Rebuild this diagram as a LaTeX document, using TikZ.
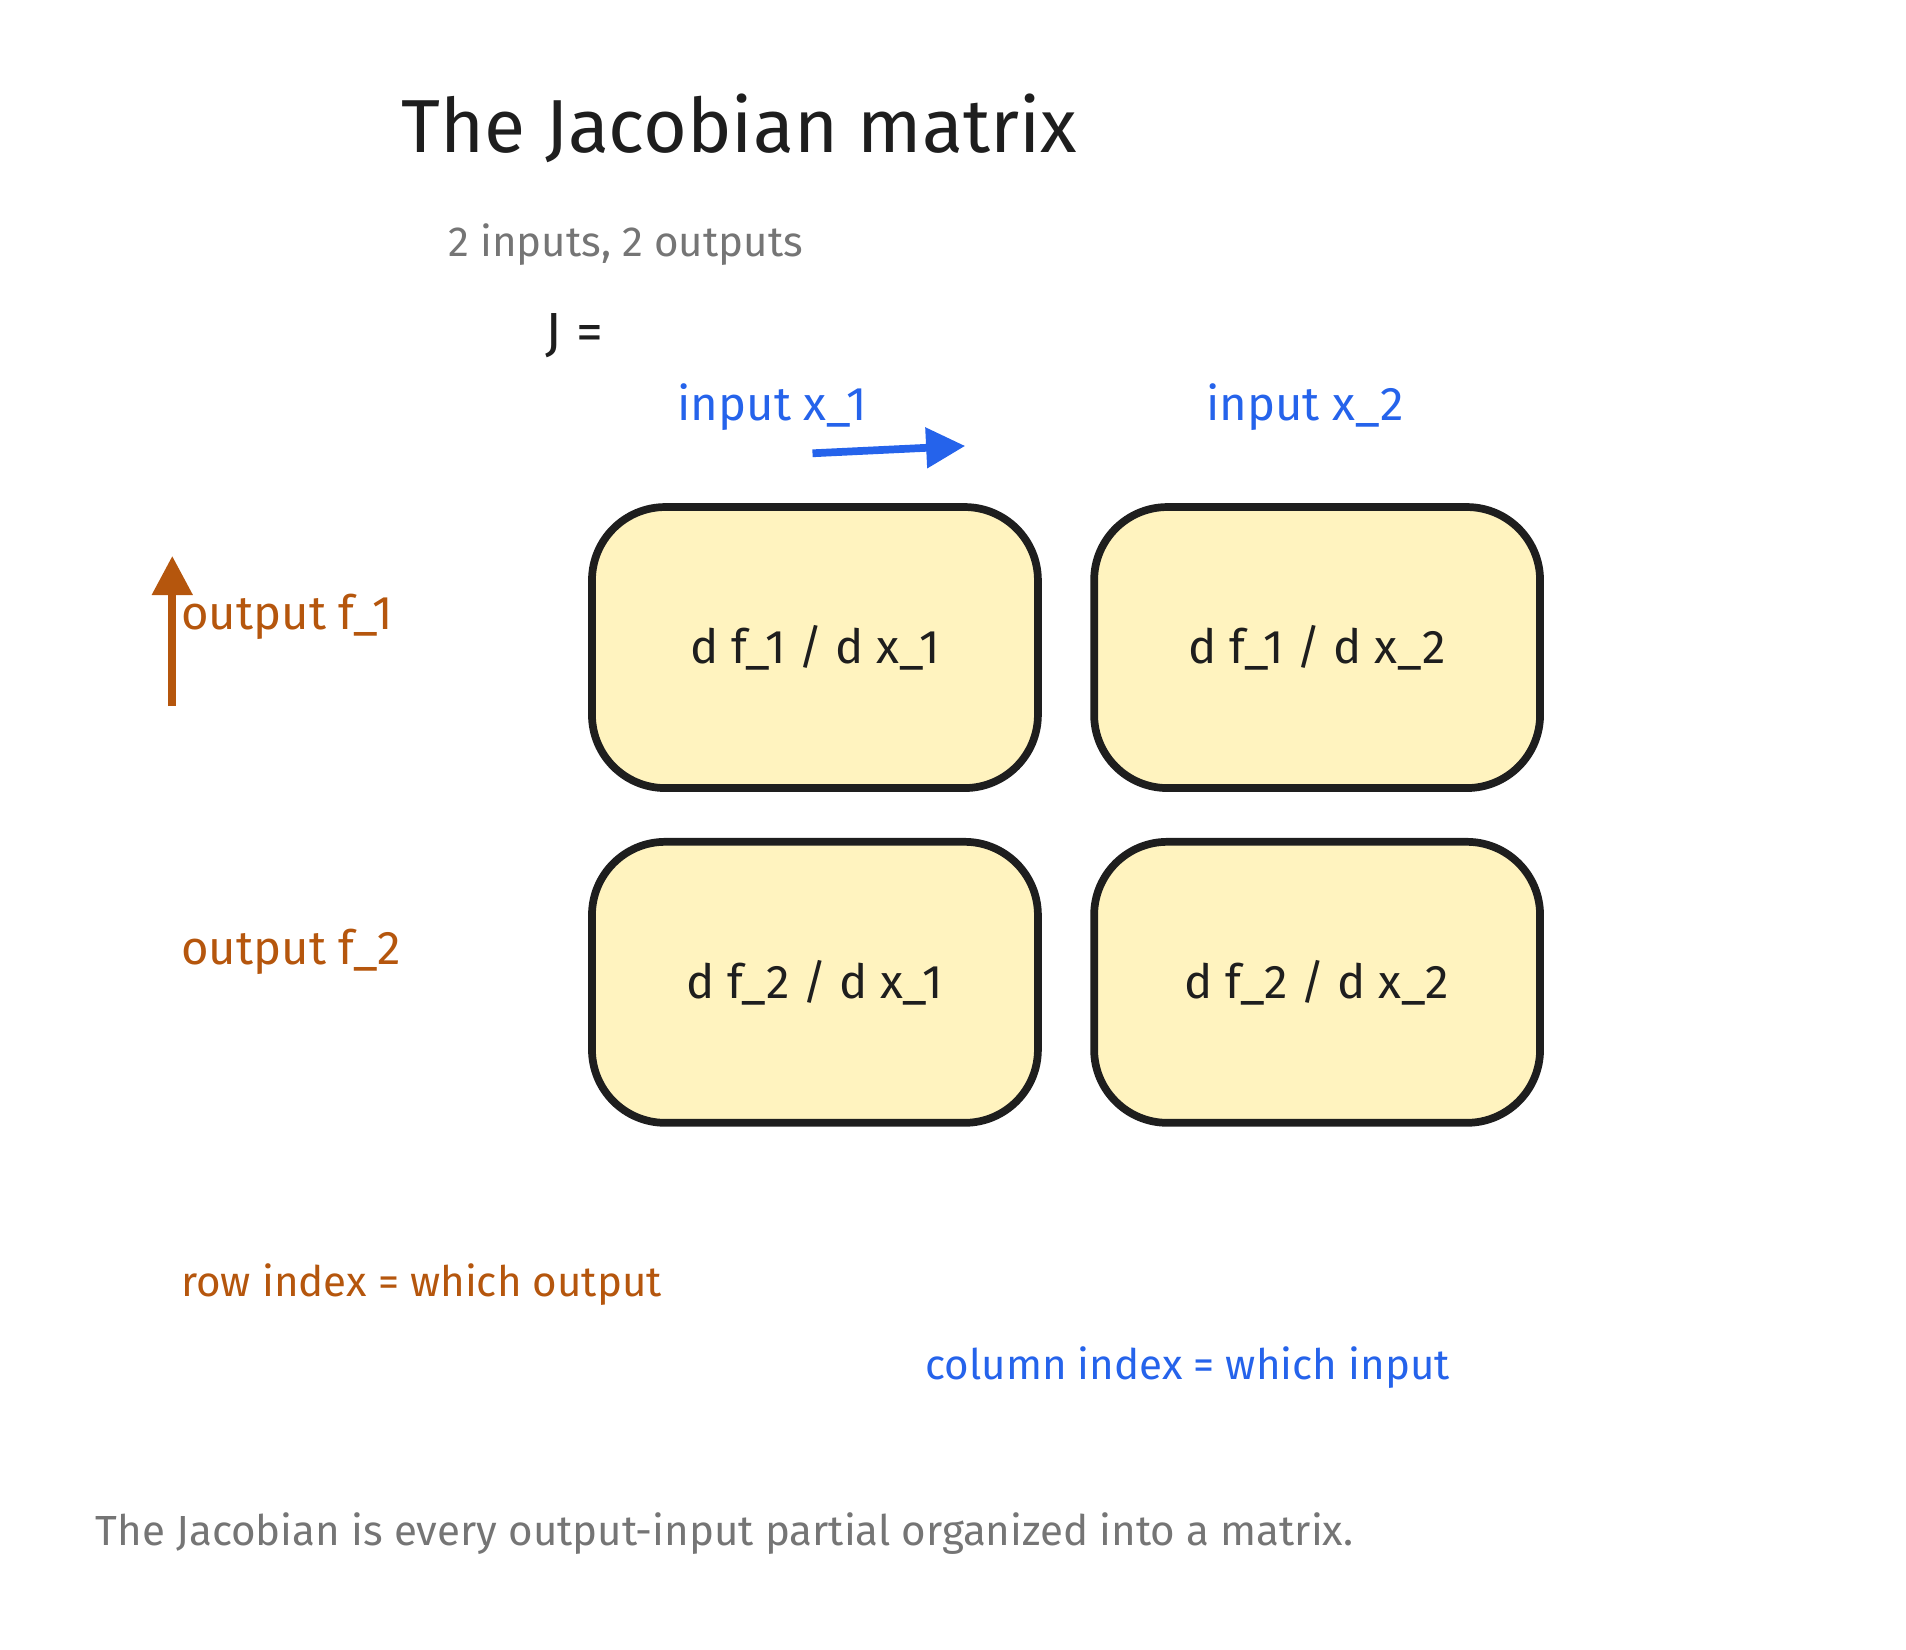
\documentclass[tikz,border=0pt]{standalone}
\usepackage{fontspec}
\setmainfont{Fira Sans}
\usetikzlibrary{arrows.meta}
\definecolor{inblue}{HTML}{2563EB}
\definecolor{outbrown}{HTML}{B5560D}
\definecolor{cellfill}{HTML}{FFF3BF}
\definecolor{notegray}{HTML}{757575}
\definecolor{ink}{HTML}{1E1E1E}
\tikzset{
  cell/.style={draw=ink, line width=1.8pt, fill=cellfill, rounded corners=0.6cm,
    minimum width=3.65cm, minimum height=2.3cm, font=\fontsize{11}{13}\selectfont, text=ink},
  lbl/.style={font=\fontsize{11}{13}\selectfont},
  note/.style={font=\fontsize{9.8}{12}\selectfont},
  flow/.style={line width=1.8pt, -{Triangle[length=0.32cm, width=0.32cm]}}
}
\begin{document}
\begin{tikzpicture}[x=1cm,y=1cm]
\useasboundingbox (0,0) rectangle (15.6,13.5);
% heading
\node[font=\fontsize{17.5}{21}\selectfont, text=ink] (title) at (6.05,12.45) {The Jacobian matrix};
\node[note, text=notegray] (sub) at (5.12,11.5) {2 inputs, 2 outputs};
\node[font=\fontsize{12.5}{15}\selectfont, text=ink] (jeq) at (4.7,10.75) {J =};
% column labels
\node[lbl, text=inblue] (inone) at (6.32,10.17) {input x\_1};
\node[lbl, text=inblue] (intwo) at (10.68,10.17) {input x\_2};
\coordinate (colstart) at (6.65,9.79);
\coordinate (colend) at (7.9,9.85);
\draw[flow, inblue] (colstart) -- (colend);
% row labels
\node[lbl, text=outbrown, anchor=west] (outone) at (1.36,8.45) {output f\_1};
\node[lbl, text=outbrown, anchor=west] (outtwo) at (1.36,5.71) {output f\_2};
\coordinate (rowstart) at (1.41,7.72);
\coordinate (rowend) at (1.41,8.95);
\draw[flow, outbrown] (rowstart) -- (rowend);
% cells
\node[cell] (a11) at (6.67,8.2) {d f\_1 / d x\_1};
\node[cell] (a12) at (10.78,8.2) {d f\_1 / d x\_2};
\node[cell] (a21) at (6.67,5.46) {d f\_2 / d x\_1};
\node[cell] (a22) at (10.78,5.46) {d f\_2 / d x\_2};
% notes
\node[note, text=outbrown, anchor=west] (rownote) at (1.36,2.99) {row index = which output};
\node[note, text=inblue] (colnote) at (9.72,2.31) {column index = which input};
\node[note, text=notegray, anchor=west] (caption) at (0.66,0.95) {The Jacobian is every output-input partial organized into a matrix.};
\end{tikzpicture}
\end{document}
